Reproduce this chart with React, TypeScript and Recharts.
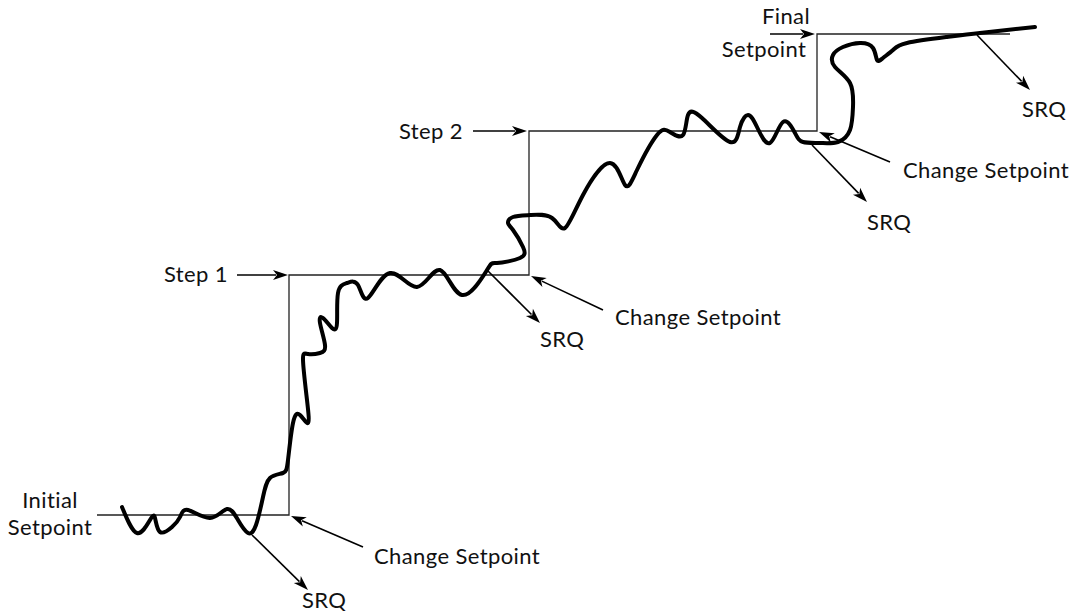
import React from "react"
import { LineChart, Line, XAxis, YAxis, ReferenceLine, ReferenceDot } from "recharts"

// ─── Data (time on x, process value on y) ───────────────────────────────────

const setpointTime = [97, 289, 289, 529, 529, 817, 817, 1010]
const setpointLevel = [101, 101, 341, 341, 485, 485, 582, 582]

const responseTime = [
  122, 137, 150, 155, 160, 172, 180, 188, 210, 227, 238, 248, 256, 263, 270, 283, 288, 293, 300, 308,
  307, 303, 308, 320, 325, 320, 323, 332, 337, 338, 347, 358, 368, 390, 417, 440, 462, 487, 497, 520,
  523, 513, 508, 513, 530, 552, 565, 583, 610, 625, 637, 657, 670, 683, 688, 702, 730, 740, 748, 757,
  770, 783, 795, 803, 820, 838, 850, 853, 850, 835, 833, 843, 860, 873, 877, 883, 893, 907, 947, 980,
  1035,
]
const responseLevel = [
  109, 83, 96, 98, 84, 89, 99, 106, 98, 107, 96, 83, 91, 119, 138, 143, 156, 193, 201, 193,
  216, 256, 262, 263, 271, 293, 298, 288, 293, 323, 333, 331, 318, 343, 329, 346, 321, 346, 353, 358,
  369, 386, 393, 399, 401, 398, 388, 421, 453, 431, 446, 481, 484, 481, 501, 498, 474, 489, 501, 489,
  473, 494, 483, 474, 473, 474, 486, 509, 533, 549, 561, 569, 573, 568, 556, 558, 566, 573, 579, 583,
  589,
]

// annotation arrows: [fromTime, fromLevel, toTime, toLevel]
const arrows = [
  [237, 341, 288, 341],
  [473, 485, 527, 485],
  [770, 582, 815, 582],
  [363, 69, 291, 100],
  [252, 81, 308, 26],
  [603, 306, 531, 340],
  [487, 346, 540, 293],
  [890, 454, 819, 484],
  [812, 471, 867, 414],
  [977, 581, 1030, 526],
]

const labelText = [
  "Initial", "Setpoint", "Step 1", "Step 2", "Final", "Setpoint",
  "Change Setpoint", "SRQ", "Change Setpoint", "SRQ", "Change Setpoint", "SRQ", "SRQ",
]
const labelTime = [50, 50, 228, 463, 786, 764, 374, 302, 615, 540, 903, 867, 1022]
const labelLevel = [108, 81, 334, 477, 592, 559, 52, 8, 291, 269, 438, 386, 499]
const labelAnchor = [
  "middle", "middle", "end", "end", "middle", "middle",
  "start", "start", "start", "start", "start", "start", "start",
]

const setpointData = setpointTime.map((t, i) => ({ t, v: setpointLevel[i] }))
const responseData = responseTime.map((t, i) => ({ t, v: responseLevel[i] }))

// ─── Shapes ─────────────────────────────────────────────────────────────────

function Arrow(props: any) {
  const { x1, y1, x2, y2 } = props
  const ang = Math.atan2(y2 - y1, x2 - x1)
  const len = 15
  const half = 5
  const bx = x2 - len * Math.cos(ang)
  const by = y2 - len * Math.sin(ang)
  const px = -Math.sin(ang) * half
  const py = Math.cos(ang) * half
  return (
    <g>
      <line x1={x1} y1={y1} x2={bx + 3 * Math.cos(ang)} y2={by + 3 * Math.sin(ang)} stroke="#000" strokeWidth={1.6} />
      <polygon
        points={`${x2},${y2} ${bx + px},${by + py} ${bx + 4 * Math.cos(ang)},${by + 4 * Math.sin(ang)} ${bx - px},${by - py}`}
        fill="#000"
      />
    </g>
  )
}

function makeLabel(text: string, anchor: string) {
  return (p: any) => (
    <text
      x={p.cx}
      y={p.cy}
      textAnchor={anchor}
      fontSize={22}
      letterSpacing={0.4}
      fontFamily="Lato, 'Open Sans', sans-serif"
      fill="#111"
    >
      {text}
    </text>
  )
}

// ─── Chart ──────────────────────────────────────────────────────────────────

export default function App() {
  return (
    <div style={{ position: "absolute", left: 0, top: 0, background: "#fff" }}>
      <LineChart width={1075} height={616} margin={{ top: 0, right: 0, bottom: 0, left: 0 }}>
        <XAxis type="number" dataKey="t" domain={[0, 1075]} hide allowDataOverflow />
        <YAxis type="number" dataKey="v" domain={[0, 616]} hide allowDataOverflow />
        <Line
          data={setpointData}
          dataKey="v"
          type="linear"
          stroke="#222"
          strokeWidth={1.3}
          dot={false}
          activeDot={false}
          legendType="none"
          isAnimationActive={false}
        />
        <Line
          data={responseData}
          dataKey="v"
          type="natural"
          stroke="#000"
          strokeWidth={4}
          strokeLinecap="round"
          strokeLinejoin="round"
          dot={false}
          activeDot={false}
          legendType="none"
          isAnimationActive={false}
        />
        {arrows.map(([a, b, c, d], i) => (
          <ReferenceLine
            key={`arrow-${i}`}
            segment={[{ x: a, y: b }, { x: c, y: d }]}
            ifOverflow="visible"
            shape={Arrow}
          />
        ))}
        {labelText.map((text, i) => (
          <ReferenceDot
            key={`label-${i}`}
            x={labelTime[i]}
            y={labelLevel[i]}
            r={0}
            ifOverflow="visible"
            shape={makeLabel(text, labelAnchor[i])}
          />
        ))}
      </LineChart>
    </div>
  )
}
